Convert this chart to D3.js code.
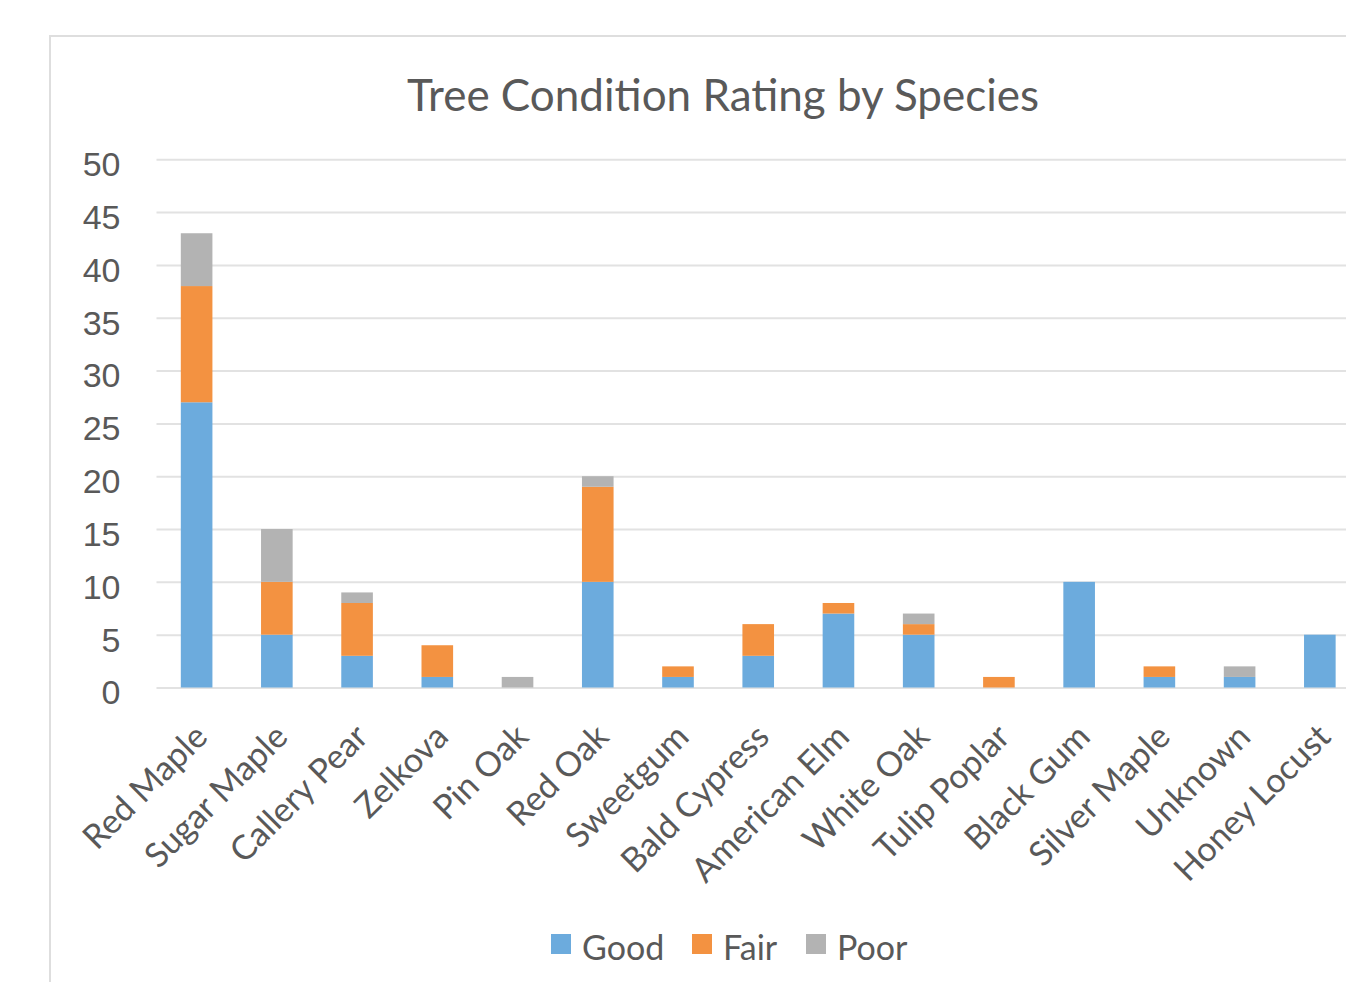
<!DOCTYPE html>
<html>
<head>
<meta charset="utf-8">
<script src="https://cdn.jsdelivr.net/npm/d3@7"></script>
<style>
  body { margin: 0; background: #fff; }
  svg { display: block; font-family: Lato, "Open Sans", sans-serif; }
</style>
</head>
<body>
<svg id="chart" width="1346" height="982"></svg>
<script>
// species along the x axis
var species = ["Red Maple", "Sugar Maple", "Callery Pear", "Zelkova", "Pin Oak", "Red Oak",
  "Sweetgum", "Bald Cypress", "American Elm", "White Oak", "Tulip Poplar", "Black Gum",
  "Silver Maple", "Unknown", "Honey Locust"];
// counts per condition rating
var good = [27, 5, 3, 1, 0, 10, 1, 3, 7, 5, 0, 10, 1, 1, 5];
var fair = [11, 5, 5, 3, 0, 9, 1, 3, 1, 1, 1, 0, 1, 0, 0];
var poor = [5, 5, 1, 0, 1, 1, 0, 0, 0, 1, 0, 0, 0, 1, 0];
var seriesNames = ["Good", "Fair", "Poor"];
var yTicks = [0, 5, 10, 15, 20, 25, 30, 35, 40, 45, 50];

var colors = {Good: "#6cabdd", Fair: "#f39241", Poor: "#b3b3b3"};
var textColor = "#595959";

var svg = d3.select("#chart");

// outer chart frame (runs off the right/bottom edge like the screenshot)
svg.append("rect")
  .attr("x", 50).attr("y", 36)
  .attr("width", 1400).attr("height", 1000)
  .attr("fill", "none")
  .attr("stroke", "#dedede")
  .attr("stroke-width", 2);

// title
svg.append("text")
  .attr("x", 723).attr("y", 111)
  .attr("text-anchor", "middle")
  .attr("fill", textColor)
  .style("font-size", "44px")
  .text("Tree Condition Rating by Species");

// scales
var x = d3.scaleBand().domain(species).range([156.5, 156.5 + 15 * 80.23]).paddingInner(0.606).paddingOuter(0.303);
var y = d3.scaleLinear().domain([0, 50]).range([687.5, 159.3]);

// gridlines + y labels
var yAxis = d3.axisLeft(y).tickValues(yTicks).tickSize(-(1346 - 156.5)).tickPadding(36);
var gy = svg.append("g").attr("transform", "translate(156.5,0)").call(yAxis);
gy.select(".domain").remove();
gy.selectAll(".tick line").attr("stroke", "#e2e2e2").attr("stroke-width", 2);
gy.selectAll(".tick text")
  .attr("fill", textColor)
  .attr("dy", "0.48em")
  .style("font-size", "34px");

// stacked bars
var rows = species.map(function(s, i) {
  return {species: s, Good: good[i], Fair: fair[i], Poor: poor[i]};
});
var stacked = d3.stack().keys(seriesNames)(rows);

svg.append("g").selectAll("g")
  .data(stacked)
  .join("g")
  .attr("fill", d => colors[d.key])
  .selectAll("rect")
  .data(d => d)
  .join("rect")
  .attr("x", d => x(d.data.species))
  .attr("y", d => y(d[1]))
  .attr("width", x.bandwidth())
  .attr("height", d => y(d[0]) - y(d[1]));

// rotated x labels
svg.append("g").selectAll("text")
  .data(species)
  .join("text")
  .attr("transform", d => "translate(" + (x(d) + x.bandwidth() / 2 - 4) + ",722) rotate(-45)")
  .attr("text-anchor", "end")
  .attr("dy", "0.7em")
  .attr("fill", textColor)
  .style("font-size", "34px")
  .text(d => d);

// legend
var legendX = [551, 692, 806];
var lg = svg.append("g").selectAll("g")
  .data(seriesNames)
  .join("g")
  .attr("transform", (d, i) => "translate(" + legendX[i] + ",934)");
lg.append("rect")
  .attr("width", 20).attr("height", 20)
  .attr("fill", d => colors[d]);
lg.append("text")
  .attr("x", 31).attr("y", 26)
  .attr("fill", textColor)
  .style("font-size", "34px")
  .text(d => d);
</script>
</body>
</html>
